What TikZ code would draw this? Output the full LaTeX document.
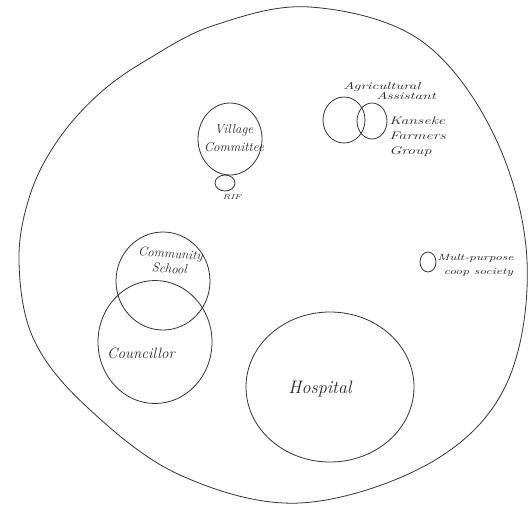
\documentclass[tikz,border=0pt]{standalone}
\usetikzlibrary{shapes.geometric}
\begin{document}
\begin{tikzpicture}[x=1pt,y=-1pt,
  ink/.style={draw=black!80,line width=0.8pt},
  orgring/.style={ink,ellipse,inner sep=0pt},
  lbl/.style={font=\itshape,text=black!85,inner sep=0pt,align=center},
  slbl/.style={font=\itshape,text=black!85,inner sep=0pt,align=left}]
\useasboundingbox (0,0) rectangle (530,507);
% outer boundary (community)
\draw[ink] plot[smooth cycle,tension=0.6] coordinates {
 (310,7) (420,40) (494,135) (527,260) (506,385) (430,463) (300,503)
 (180,475) (88,408) (34,340) (19,262) (30,195) (58,140) (100,93) (150,58) (215,25)};
% Village committee and RIF
\node[orgring,minimum width=64pt,minimum height=72pt] (vc) at (230,139) {};
\node[lbl,font=\itshape\fontsize{13}{14}\selectfont] (vct) at (234,138) {Village\\[4pt]Committee};
\node[orgring,minimum width=20pt,minimum height=16pt] (rif) at (225,183) {};
\node[lbl,font=\itshape\fontsize{7}{8}\selectfont,xscale=1.3] (rift) at (232,197) {RIF};
% Agricultural assistant and Kanseke Farmers Group
\node[orgring,minimum width=42pt,minimum height=46pt] (aa) at (344,120) {};
\node[orgring,minimum width=30pt,minimum height=36pt] (kfg) at (372,121) {};
\node[slbl,font=\itshape\fontsize{10}{9}\selectfont,xscale=1.5,anchor=north west] (aat) at (343,82) {Agricultural\\\hspace*{2.2em}Assistant};
\node[slbl,font=\itshape\fontsize{11}{15}\selectfont,xscale=1.45,anchor=west] (kfgt) at (389,137) {Kanseke\\Farmers\\Group};
% Multi-purpose coop society
\node[orgring,minimum width=16pt,minimum height=20pt] (mpc) at (428,262) {};
\node[slbl,font=\itshape\fontsize{9}{14}\selectfont,xscale=1.45,anchor=west] (mpct) at (437,265) {Mult-purpose\\\hspace*{0.5em}coop society};
% Community school and Councillor
\node[orgring,minimum width=94pt,minimum height=98pt] (cs) at (163,281) {};
\node[orgring,minimum width=114pt,minimum height=123pt] (cc) at (155,342) {};
\node[lbl,font=\itshape\fontsize{13}{15}\selectfont,rotate=-4] (cst) at (170,261) {Community\\School};
\node[lbl,font=\itshape\fontsize{15}{16}\selectfont] (cct) at (141,353) {Councillor};
% Hospital
\node[orgring,minimum width=168pt,minimum height=150pt] (hosp) at (330,387) {};
\node[lbl,font=\itshape\fontsize{18}{20}\selectfont] (hospt) at (320,389) {Hospital};
\end{tikzpicture}
\end{document}
